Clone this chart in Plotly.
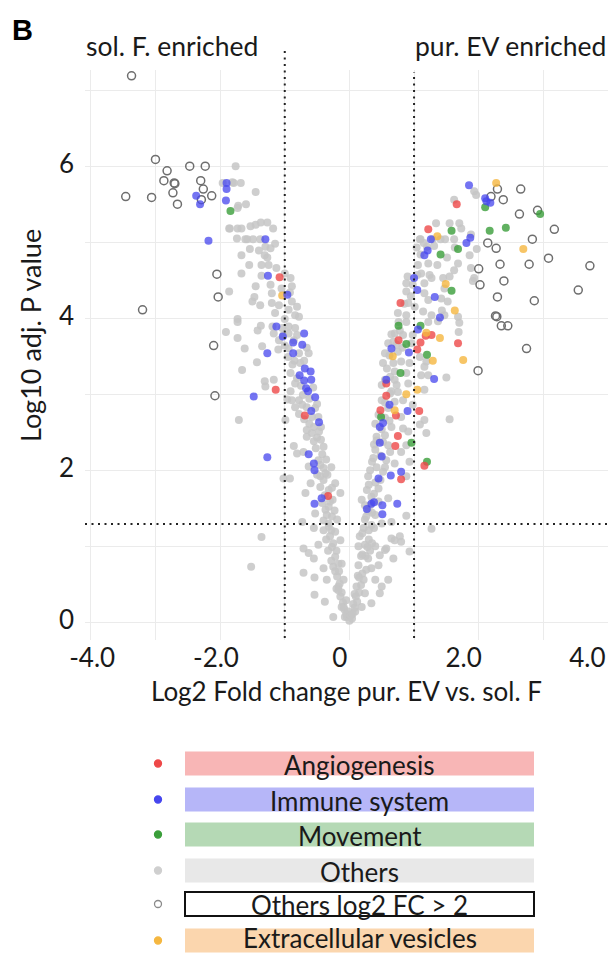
import plotly.graph_objects as go

W, H = 608, 953

# ---------------- data (log2 FC, -log10 adj. P) ----------------
angio_x = [-1.08, -1.14, -0.69, -0.33, 1.66, 1.22, 0.79, 1.68, 1.10, 1.18, 1.05, 0.76, 1.27,
           0.57, 0.57, 1.08, 0.72, 0.48, 0.75, 0.71, 1.16, 0.80]
angio_y = [4.55, 3.07, 2.73, 1.67, 5.51, 5.18, 4.21, 3.68, 3.69, 3.78, 3.60, 3.72, 3.79,
           3.15, 2.99, 2.79, 2.73, 2.80, 2.46, 2.33, 2.07, 1.89]

immune_x = [-1.90, -1.90, -2.37, -2.31, -1.91, -2.18, -1.30, -1.26, -0.96, -1.13, -1.03, -0.87,
            -1.27, -0.87, -1.48, -1.27, -0.70, -0.73, -0.69, -0.60, -0.77, -0.70, -0.59, -0.67,
            -0.64, -0.53, -0.59, -0.47, -0.63, -0.55, -0.54, -0.54, -0.43,
            1.85, 2.10, 2.18, 2.12, 1.87, 1.81, 1.26, 1.21, 1.16, 1.00, 1.05, 1.32, 1.40, 1.06,
            0.65, 0.92, 1.31, 0.57, 0.62, 0.90, 0.52, 0.47, 0.47, 0.50, 0.64, 0.80, 0.45, 0.27,
            0.34, 0.38, 0.51, 0.51, 0.74]
immune_y = [5.79, 5.71, 5.62, 5.51, 5.56, 5.03, 5.05, 4.57, 4.32, 3.90, 3.77, 3.69,
            3.55, 3.55, 2.98, 2.18, 3.81, 3.66, 3.35, 3.31, 3.26, 3.19, 3.20, 3.09,
            3.05, 2.97, 2.79, 2.64, 2.22, 2.10, 2.01, 1.57, 1.64,
            5.76, 5.59, 5.53, 5.55, 5.07, 5.00, 5.05, 4.90, 4.84, 4.54, 4.38, 4.29, 4.02, 3.86,
            3.61, 3.56, 3.21, 3.20, 2.87, 2.79, 2.63, 2.58, 2.37, 2.19, 1.94, 1.99, 1.90, 1.50,
            1.57, 1.59, 1.55, 1.43, 1.57]

movement_x = [-1.84, 2.10, 2.95, 2.17, 2.42, 1.58, 1.68, 1.41, 1.58, 0.76, 0.88, 1.20, 0.79,
              0.49, 0.96, 1.20, 1.10]
movement_y = [5.42, 5.47, 5.38, 5.16, 5.20, 5.16, 4.92, 4.85, 4.37, 3.91, 3.67, 3.53, 3.29,
              2.71, 2.37, 2.12, 3.91]

ev_x = [-1.04, 2.27, 2.69, 1.63, 1.40, 1.76, 1.36, 1.49, 1.29, 0.67, 1.05, 0.88, 1.19, 0.70]
ev_y = [4.31, 5.79, 4.92, 4.11, 3.75, 3.46, 5.09, 4.46, 3.45, 3.51, 3.07, 3.01, 3.82, 2.80]

others_fc_x = [-3.37, -3.00, -2.82, -2.47, -2.23, -2.87, -2.71, -2.70, -2.30, -2.26, -2.73, -3.46,
               -3.06, -2.66, -2.13, -2.29, -2.05, -2.03, -3.20, -2.10, -2.08,
               2.29, 2.65, 2.38, 2.19, 2.63, 2.91, 3.17, 2.83, 2.14, 2.27, 3.08, 3.72, 2.33,
               2.78, 2.00, 2.02, 2.39, 3.54, 2.29, 2.86, 2.26, 2.28, 2.35, 2.45, 2.74, 1.99]
others_fc_y = [7.20, 6.10, 5.95, 6.01, 6.01, 5.82, 5.79, 5.78, 5.82, 5.71, 5.66, 5.61,
               5.60, 5.51, 5.62, 5.57, 4.59, 4.29, 4.12, 3.65, 2.99,
               5.71, 5.71, 5.57, 5.61, 5.38, 5.43, 5.18, 5.05, 5.00, 4.93, 4.80, 4.70, 4.72,
               4.72, 4.66, 4.45, 4.50, 4.38, 4.29, 4.24, 4.04, 4.03, 3.91, 3.91, 3.61, 3.32]

others_points = [
    # upper left arm
    (-1.76, 6.01), (-1.96, 5.79), (-1.79, 5.79), (-1.68, 5.79), (-1.45, 5.67), (-1.72, 5.49),
    (-1.60, 5.51), (-1.73, 5.46), (-1.85, 5.19), (-1.73, 5.19), (-1.67, 5.19), (-1.53, 5.22),
    (-1.45, 5.24), (-1.37, 5.27), (-1.27, 5.27), (-1.18, 5.19), (-1.74, 5.06), (-1.58, 5.05),
    (-1.49, 5.05), (-1.38, 5.05), (-1.15, 4.99), (-1.22, 4.93), (-1.54, 4.92), (-1.67, 4.84),
    (-1.31, 4.84), (-1.27, 4.81), (-1.55, 4.71), (-1.36, 4.71), (-1.25, 4.71), (-1.13, 4.67),
    (-1.67, 4.60), (-1.36, 4.57), (-1.22, 4.45), (-0.91, 4.54), (-0.89, 4.43), (-1.45, 4.43),
    (-1.86, 4.36), (-1.47, 4.29), (-1.20, 4.34), (-1.50, 4.23), (-1.38, 4.18), (-1.20, 4.21),
    (-0.89, 4.23), (-0.84, 4.05), (-1.15, 4.08), (-1.09, 4.18), (-1.73, 4.00), (-1.81, 5.80),
    (-1.61, 5.05), (-0.81, 4.16), (-0.94, 4.12), (-0.78, 4.03), (-1.86, 5.19),
    (-1.00, 4.00), (-0.92, 4.35), (-1.05, 4.40), (-1.00, 4.60), (-1.30, 4.95), (-1.40, 4.90),
    # middle left arm
    (-1.73, 3.96), (-1.37, 3.91), (-1.91, 3.83), (-1.42, 3.85), (-1.17, 3.81), (-1.73, 3.75),
    (-1.09, 3.72), (-1.02, 3.79), (-0.94, 3.81), (-0.81, 3.79), (-1.62, 3.61), (-1.35, 3.64),
    (-1.10, 3.60), (-0.94, 3.61), (-0.78, 3.55), (-0.63, 3.55), (-1.43, 3.43), (-0.85, 3.45),
    (-0.76, 3.42), (-1.66, 3.33), (-0.91, 3.29), (-0.81, 3.22), (-1.31, 3.18), (-1.17, 3.20),
    (-1.30, 3.11), (-0.91, 3.05), (-0.84, 3.15), (-0.96, 2.94), (-0.89, 2.93), (-0.78, 2.93),
    (-0.73, 2.87), (-0.84, 2.84), (-0.66, 2.84), (-0.53, 2.83), (-0.78, 2.75), (-0.58, 2.71),
    (-0.48, 2.71), (-1.71, 2.67), (-0.55, 2.58), (-0.66, 2.54), (-0.66, 2.45), (-0.50, 2.44),
    (-0.55, 2.39), (-0.44, 2.41), (-0.86, 2.33), (-0.81, 2.23), (-0.71, 2.25), (-0.42, 2.22),
    (-0.48, 2.14), (-0.40, 2.04), (-0.37, 1.97), (-0.45, 1.93), (-0.63, 2.06), (-1.19, 3.90),
    (-1.04, 3.88), (-0.94, 3.90), (-0.84, 3.88), (-0.99, 2.67), (-1.02, 1.90), (-0.92, 1.90),
    (-0.52, 2.30), (-0.40, 2.32), (-0.47, 2.52), (-0.58, 2.50), (-0.62, 2.62), (-0.44, 2.58),
    (-0.70, 2.68), (-0.50, 2.88), (-0.62, 2.95), (-0.72, 3.00), (-0.56, 3.10), (-0.75, 3.12),
    (-0.88, 3.40), (-0.70, 3.45), (-0.66, 3.62), (-0.95, 3.50), (-1.00, 3.65), (-0.86, 3.72),
    # lower left arm
    (-1.36, 1.13), (-1.52, 0.74), (-0.68, 1.71), (-0.60, 1.84), (-0.45, 1.79), (-0.53, 1.44),
    (-0.37, 1.49), (-0.73, 1.33), (-0.55, 1.25), (-0.40, 1.22), (-0.32, 1.31), (-0.48, 1.03),
    (-0.71, 0.98), (-0.55, 0.85), (-0.63, 0.92), (-0.40, 0.72), (-0.71, 0.66), (-0.54, 0.60),
    (-0.35, 0.57), (-0.54, 0.37), (-0.38, 0.28), (-0.25, 0.08), (-0.32, 1.75), (-0.30, 1.14),
    (-0.27, 1.00), (-0.22, 0.87), (-0.25, 0.74), (-0.19, 0.61), (-0.17, 0.48), (-0.14, 0.35),
    (-0.09, 0.21), (-0.04, 0.08), (-0.32, 1.53), (-0.27, 1.40), (-0.32, 1.27), (-0.26, 1.62),
    (-0.22, 1.84), (-0.14, 1.71), (-0.19, 1.36), (-0.14, 1.09), (-0.12, 0.78),
    (-0.05, 0.12), (-0.08, 0.18), (-0.10, 0.27), (-0.12, 0.40), (-0.15, 0.52), (-0.20, 0.45),
    (-0.22, 0.68), (-0.16, 0.68), (-0.28, 0.82), (-0.20, 0.95), (-0.33, 0.95), (-0.25, 1.05),
    (-0.36, 1.10), (-0.22, 1.20), (-0.28, 1.22), (-0.40, 1.35), (-0.35, 1.42), (-0.23, 1.48),
    (-0.42, 1.58), (-0.30, 1.60), (-0.38, 1.68), (-0.27, 1.78), (-0.40, 1.88), (-0.34, 1.95),
    (-0.50, 1.95), (-0.28, 2.05), (-0.45, 2.08), (-0.36, 2.15),
    # upper right arm
    (1.93, 5.68), (1.96, 5.63), (1.62, 5.57), (1.34, 5.26), (1.55, 5.26), (1.70, 5.26),
    (1.73, 5.19), (1.09, 5.05), (1.29, 5.05), (1.41, 5.05), (1.48, 5.05), (1.62, 5.05),
    (1.88, 5.11), (1.04, 4.94), (1.31, 4.96), (1.63, 4.94), (1.97, 4.92), (1.51, 4.81),
    (1.06, 4.71), (1.22, 4.73), (1.36, 4.71), (1.68, 4.73), (1.88, 4.67), (1.62, 4.64),
    (0.90, 4.56), (1.11, 4.60), (1.24, 4.58), (0.88, 4.47), (0.98, 4.45), (1.16, 4.47),
    (1.27, 4.54), (1.45, 4.54), (1.55, 4.56), (1.93, 4.54), (1.47, 4.40), (0.88, 4.36),
    (1.16, 4.34), (1.22, 4.25), (1.42, 4.27), (1.52, 4.23), (0.91, 4.21), (1.01, 4.16),
    (0.75, 4.08), (0.88, 4.05), (1.14, 4.10), (1.27, 4.05), (1.47, 4.05), (1.68, 4.03),
    (1.91, 4.50), (1.70, 3.95), (1.69, 3.83), (1.43, 4.11), (1.10, 5.05), (1.86, 4.84),
    (0.85, 4.20), (0.95, 4.30), (1.05, 4.58), (1.10, 4.85), (1.15, 5.00), (1.20, 4.95),
    # middle right arm
    (0.76, 3.96), (0.88, 3.96), (1.22, 3.96), (1.37, 3.97), (0.70, 3.81), (0.83, 3.79),
    (0.98, 3.79), (0.60, 3.68), (0.73, 3.66), (0.96, 3.68), (0.55, 3.55), (0.75, 3.57),
    (1.09, 3.50), (1.19, 3.44), (0.52, 3.42), (0.68, 3.42), (0.80, 3.44), (0.93, 3.42),
    (1.16, 3.37), (0.70, 3.31), (0.88, 3.29), (0.63, 3.24), (1.11, 3.26), (1.22, 3.26),
    (1.50, 3.23), (0.50, 3.13), (0.73, 3.13), (0.91, 3.15), (1.16, 3.07), (0.63, 3.02),
    (0.75, 3.04), (0.50, 2.93), (0.70, 2.91), (0.83, 2.93), (0.98, 2.87), (0.60, 2.83),
    (0.45, 2.74), (0.80, 2.71), (1.55, 2.68), (1.16, 2.67), (1.09, 2.61), (1.19, 2.50),
    (0.65, 2.58), (0.83, 2.56), (0.91, 2.52), (0.55, 2.47), (0.42, 2.45), (0.60, 2.34),
    (0.88, 2.34), (0.40, 2.28), (0.63, 2.25), (0.80, 2.25), (0.37, 2.17), (0.57, 2.14),
    (0.70, 2.10), (0.93, 2.12), (0.32, 2.01), (0.52, 1.99), (0.88, 1.93), (0.29, 1.93),
    (0.42, 2.05), (0.35, 2.12), (0.48, 2.20), (0.42, 2.40), (0.52, 2.38), (0.50, 2.55),
    (0.40, 2.62), (0.55, 2.70), (0.62, 2.66), (0.55, 2.90), (0.65, 3.05), (0.55, 3.20),
    (0.70, 3.20), (0.58, 3.35), (0.62, 3.52), (0.68, 3.70), (0.78, 3.85), (0.65, 3.80),
    (0.82, 3.62),
    # lower right arm and bottom of the V
    (0.27, 1.75), (0.34, 1.66), (0.60, 1.64), (0.45, 1.77), (0.88, 1.41), (0.93, 0.94),
    (1.27, 1.24), (0.24, 1.36), (0.34, 1.29), (0.50, 1.31), (0.65, 1.33), (0.70, 1.09),
    (0.80, 1.07), (0.16, 1.14), (0.24, 1.03), (0.40, 1.01), (0.55, 0.96), (0.29, 0.85),
    (0.47, 0.89), (0.68, 0.85), (0.14, 0.76), (0.34, 0.72), (0.45, 0.76), (0.60, 0.57),
    (0.22, 0.57), (0.50, 0.48), (0.47, 0.39), (0.11, 0.48), (0.24, 0.39), (0.34, 0.26),
    (0.19, 0.21), (0.09, 0.15), (0.04, 0.06), (-0.07, 0.08), (-0.12, 0.21), (-0.17, 0.43),
    (-0.17, 0.78), (-0.09, 0.57), (-0.02, 0.15), (0.14, 1.01), (0.22, 1.25), (0.29, 1.47),
    (0.19, 1.62), (0.65, 1.11), (0.78, 1.14), (0.45, 1.60), (0.57, 0.98), (0.40, 0.57),
    (0.00, 0.03), (0.02, 0.10), (0.06, 0.25), (0.10, 0.35), (-0.05, 0.30), (0.15, 0.60),
    (0.20, 0.90), (0.30, 1.10), (0.35, 1.45), (0.40, 1.85), (0.55, 2.05), (0.38, 2.35),
    (0.05, 0.12), (0.08, 0.20), (0.12, 0.28), (0.15, 0.40), (0.08, 0.38), (0.18, 0.50),
    (0.20, 0.65), (0.13, 0.62), (0.26, 0.70), (0.25, 0.88), (0.18, 0.88), (0.32, 0.95),
    (0.28, 1.00), (0.20, 1.18), (0.35, 1.05), (0.30, 1.22), (0.26, 1.40), (0.38, 1.25),
    (0.32, 1.55), (0.40, 1.42), (0.24, 1.55), (0.38, 1.70), (0.30, 1.82), (0.48, 1.88),
]
others_x = [p[0] for p in others_points]
others_y = [p[1] for p in others_points]

x_gridvals = [-4, -3, -2, -1, 0, 1, 2, 3, 4]
x_tickvals = [-4, -2, 0, 2, 4]
x_ticktext = ["-4.0", "-2.0", "0", "2.0", "4.0"]
y_tickvals = [0, 1, 2, 3, 4, 5, 6, 7]
y_ticktext = ["0", "", "2", "", "4", "", "6", ""]

fc_threshold = 1.0          # log2 fold change cut-off (both sides)
p_threshold = 1.301         # -log10(0.05)

legend_labels = ["Angiogenesis", "Immune system", "Movement", "Others",
                 "Others log2 FC > 2", "Extracellular vesicles"]

# ---------------- styles ----------------
FONT = "Lato, 'Open Sans', sans-serif"
C_ANGIO, C_IMMUNE, C_MOVE = "#EE4848", "#4646EE", "#3A9E3A"
C_OTHERS, C_RING, C_EV = "#C6C6C6", "#6E6E6E", "#F5B740"
legend_marker_colors = [C_ANGIO, C_IMMUNE, C_MOVE, "#CFCFCF", "#8A8A8A", C_EV]
legend_box_colors = ["#F8B6B6", "#B6B6F8", "#B5D9B5", "#E8E8E8", "#FFFFFF", "#FBD6AE"]

# pixel layout of the plot area
PL, PR, PT, PB = 85, 608, 70, 640

fig = go.Figure()


def pts(xs, ys, color, size=8, opacity=0.8, symbol="circle", lw=0):
    fig.add_trace(go.Scatter(
        x=xs, y=ys, mode="markers", xaxis="x", yaxis="y", showlegend=False,
        hoverinfo="skip",
        marker=dict(size=size, color=color, opacity=opacity, symbol=symbol,
                    line=dict(width=lw, color=color))))


pts(others_x, others_y, C_OTHERS, opacity=0.85)
pts(others_fc_x, others_fc_y, C_RING, size=8, opacity=1, symbol="circle-open", lw=1.5)
pts(movement_x, movement_y, C_MOVE)
pts(angio_x, angio_y, C_ANGIO)
pts(ev_x, ev_y, C_EV)
pts(immune_x, immune_y, C_IMMUNE, opacity=0.75)

# empty trace that activates the tick-label axis
fig.add_trace(go.Scatter(x=[None], y=[None], mode="markers", xaxis="x3", yaxis="y",
                         showlegend=False, hoverinfo="skip"))

# legend (pixel overlay axes)
row_y = [763.5, 799.5, 834.5, 870.5, 904, 940.5]
fig.add_trace(go.Scatter(
    x=[158] * 6, y=row_y, mode="markers", xaxis="x2", yaxis="y2", showlegend=False,
    hoverinfo="skip",
    marker=dict(size=7, color=legend_marker_colors,
                symbol=["circle"] * 4 + ["circle-open"] + ["circle"],
                line=dict(width=1.3, color=legend_marker_colors))))

shapes = []
annotations = []
text_y = [764.5, 800.5, 835.5, 871.5, 905, 937.5]
for lab, cy, ty, fillc in zip(legend_labels, row_y, text_y, legend_box_colors):
    bordered = fillc == "#FFFFFF"
    shapes.append(dict(type="rect", xref="x2", yref="y2", x0=185, x1=534,
                       y0=cy - 12, y1=min(cy + 12, H - 0.5), fillcolor=fillc,
                       line=dict(width=2 if bordered else 0, color="#111")))
    annotations.append(dict(xref="x2", yref="y2", x=359.5, y=ty, text=lab,
                            showarrow=False, xanchor="center", yanchor="middle",
                            font=dict(family=FONT, size=26, color="#1a1a1a")))

DOT = "2px,4.5px"
# threshold lines
shapes.append(dict(type="line", xref="x", yref="paper", x0=-fc_threshold, x1=-fc_threshold,
                   y0=(H - 638) / H, y1=(H - 50) / H, line=dict(color="#222", width=2, dash=DOT)))
shapes.append(dict(type="line", xref="x", yref="paper", x0=fc_threshold, x1=fc_threshold,
                   y0=(H - 638) / H, y1=(H - 72) / H, line=dict(color="#222", width=2, dash=DOT)))
shapes.append(dict(type="line", xref="paper", yref="y", x0=PL / W, x1=1,
                   y0=p_threshold, y1=p_threshold, line=dict(color="#222", width=2, dash=DOT)))

txt = dict(family=FONT, size=26.5, color="#1a1a1a")
annotations += [
    dict(xref="x2", yref="y2", x=22, y=30, text="<b>B</b>", showarrow=False,
         font=dict(family="Liberation Sans, Arial, sans-serif", size=29, color="#000")),
    dict(xref="x2", yref="y2", x=172, y=46, text="sol. F. enriched", showarrow=False, font=txt),
    dict(xref="x2", yref="y2", x=510, y=46, text="pur. EV enriched", showarrow=False, font=txt),
    dict(xref="x2", yref="y2", x=346, y=691, text="Log2 Fold change pur. EV vs. sol. F",
         showarrow=False, font=dict(family=FONT, size=26, color="#1a1a1a")),
    dict(xref="x2", yref="y2", x=30, y=336, text="Log10 adj. P value", textangle=-90,
         showarrow=False, font=dict(family=FONT, size=27, color="#1a1a1a")),
]

XDOM = [PL / W, PR / W]
fig.update_layout(
    width=W, height=H, margin=dict(l=0, r=0, t=0, b=0, autoexpand=False),
    paper_bgcolor="white", plot_bgcolor="rgba(0,0,0,0)",
    font=dict(family=FONT, size=26, color="#1a1a1a"),
    # data axis: grid lines + data scale
    xaxis=dict(domain=XDOM, range=[-4.09, 4.0], anchor="y", automargin=False,
               tickvals=x_gridvals, showticklabels=False, showgrid=True,
               gridcolor="#EBEBEB", gridwidth=1, zeroline=False, showline=False,
               ticks="", fixedrange=True),
    # tick-label axis (labels sit where the published figure places them)
    xaxis3=dict(domain=XDOM, range=[-4.116, 4.333], anchor="y", overlaying="x",
                side="bottom", automargin=False, tickvals=x_tickvals, ticktext=x_ticktext,
                showgrid=False, zeroline=False, showline=False, ticks="",
                tickfont=dict(size=26, color="#1a1a1a"), ticklabelstandoff=0,
                fixedrange=True),
    yaxis=dict(domain=[(H - PB) / H, (H - PT) / H], range=[-0.224, 7.276], anchor="x",
               automargin=False,
               tickvals=y_tickvals, ticktext=y_ticktext, showgrid=True,
               gridcolor="#EBEBEB", gridwidth=1, zeroline=False, showline=False,
               ticks="", tickfont=dict(size=26, color="#1a1a1a"),
               ticklabelstandoff=10, ticklabelshift=-3, fixedrange=True),
    xaxis2=dict(domain=[0, 1], range=[0, W], anchor="y2", visible=False, fixedrange=True,
                automargin=False),
    yaxis2=dict(domain=[0, 1], range=[H, 0], anchor="x2", visible=False, fixedrange=True,
                automargin=False),
    shapes=shapes, annotations=annotations,
)

fig.write_html("out.html", config={"displayModeBar": False})
